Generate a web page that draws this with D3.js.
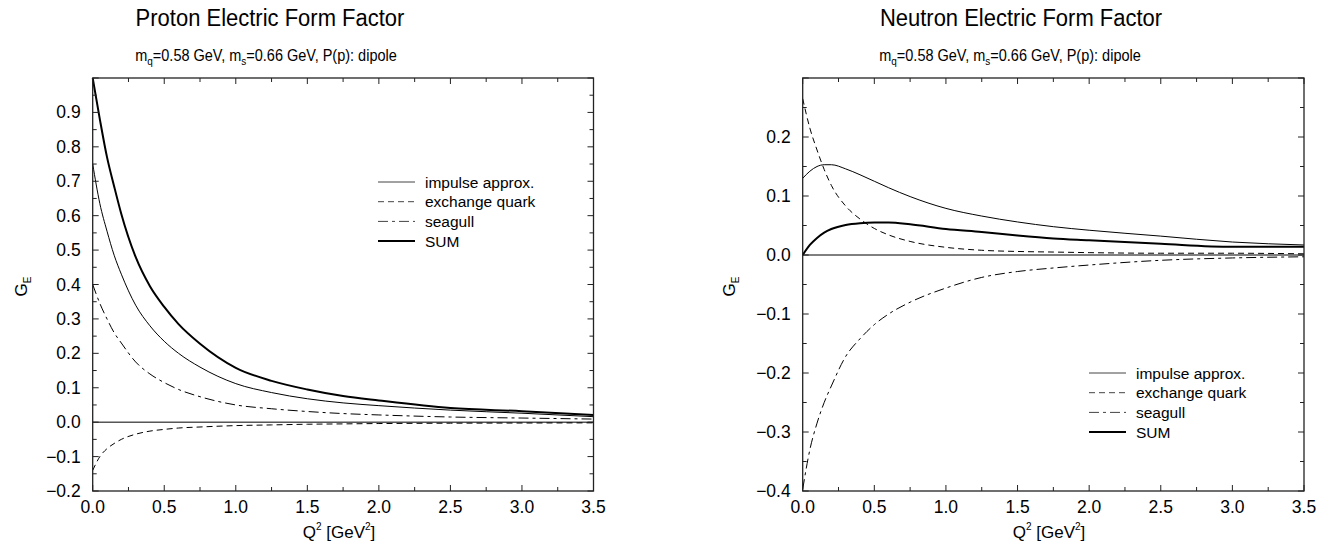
<!DOCTYPE html>
<html>
<head>
<meta charset="utf-8">
<script src="https://cdn.jsdelivr.net/npm/d3@7"></script>
<style>
  body { margin: 0; background: #fff; }
  svg { display: block; }
  text { font-family: Arial, "Liberation Sans", Helvetica, sans-serif; fill: #000; }
</style>
</head>
<body>
<svg id="chart" width="1328" height="546"></svg>
<script>
// ---------------- data ----------------
const q2 = [0, 0.05, 0.1, 0.15, 0.2, 0.3, 0.4, 0.5, 0.6, 0.75, 1.0, 1.25, 1.5, 1.75, 2.0, 2.5, 3.0, 3.5];

const protonImpulse  = [0.75, 0.635, 0.555, 0.485, 0.43, 0.34, 0.28, 0.235, 0.2, 0.16, 0.112, 0.086, 0.068, 0.056, 0.048, 0.035, 0.026, 0.016];
const protonExchange = [-0.14, -0.10, -0.077, -0.062, -0.05, -0.035, -0.026, -0.021, -0.017, -0.014, -0.01, -0.008, -0.006, -0.005, -0.004, -0.003, -0.0025, -0.002];
const protonSeagull  = [0.40, 0.345, 0.30, 0.26, 0.23, 0.175, 0.14, 0.115, 0.095, 0.074, 0.05, 0.039, 0.031, 0.025, 0.021, 0.015, 0.012, 0.009];
const protonSum      = [1.0, 0.88, 0.77, 0.685, 0.605, 0.48, 0.395, 0.335, 0.285, 0.228, 0.158, 0.12, 0.095, 0.076, 0.063, 0.041, 0.032, 0.021];

const neutronImpulse  = [0.13, 0.142, 0.15, 0.153, 0.153, 0.146, 0.136, 0.125, 0.114, 0.099, 0.079, 0.066, 0.056, 0.048, 0.042, 0.032, 0.022, 0.017];
const neutronExchange = [0.265, 0.215, 0.178, 0.145, 0.118, 0.083, 0.061, 0.045, 0.034, 0.023, 0.013, 0.008, 0.006, 0.005, 0.004, 0.003, 0.003, 0.002];
const neutronSeagull  = [-0.397, -0.33, -0.285, -0.25, -0.222, -0.172, -0.142, -0.118, -0.1, -0.08, -0.056, -0.038, -0.028, -0.022, -0.017, -0.009, -0.005, -0.003];
const neutronSum      = [0.0, 0.017, 0.029, 0.038, 0.044, 0.051, 0.054, 0.055, 0.055, 0.052, 0.044, 0.039, 0.033, 0.028, 0.025, 0.019, 0.014, 0.014];

const seriesNames = ["impulse approx.", "exchange quark", "seagull", "SUM"];
const xTickLabels = ["0.0", "0.5", "1.0", "1.5", "2.0", "2.5", "3.0", "3.5"];
const protonYTicks = [-0.2, -0.1, 0.0, 0.1, 0.2, 0.3, 0.4, 0.5, 0.6, 0.7, 0.8, 0.9];
const neutronYTicks = [-0.4, -0.3, -0.2, -0.1, 0.0, 0.1, 0.2];

// ---------------- styles ----------------
const lineStyles = [
  { width: 1, dash: null },
  { width: 1, dash: "6,4" },
  { width: 1, dash: "10,4,3,4" },
  { width: 2, dash: null }
];

const svg = d3.select("#chart");

function panel(cfg) {
  const x = d3.scaleLinear().domain([0, 3.5]).range([cfg.x0, cfg.x1]);
  const y = d3.scaleLinear().domain(cfg.yDomain).range([cfg.yBottom, cfg.yTop]);
  const g = svg.append("g");

  // curves
  const line = d3.line().x((d, i) => x(q2[i])).y(d => y(d)).curve(d3.curveMonotoneX);
  cfg.series.forEach((s, k) => {
    g.append("path")
      .attr("d", line(s))
      .attr("fill", "none")
      .attr("stroke", "#000")
      .attr("stroke-width", lineStyles[k].width)
      .attr("stroke-dasharray", lineStyles[k].dash);
  });

  // zero line
  g.append("line")
    .attr("x1", x(0)).attr("x2", x(3.5))
    .attr("y1", y(0)).attr("y2", y(0))
    .attr("stroke", "#000").attr("stroke-width", 1);

  // frame
  g.append("rect")
    .attr("x", cfg.x0).attr("y", cfg.yTop)
    .attr("width", cfg.x1 - cfg.x0).attr("height", cfg.yBottom - cfg.yTop)
    .attr("fill", "none").attr("stroke", "#222").attr("stroke-width", 1.3);

  // x ticks (inward, top and bottom)
  const xMajor = d3.range(0, 3.51, 0.5);
  const xMinor = d3.range(0.25, 3.5, 0.5);
  const tickG = g.append("g").attr("stroke", "#222").attr("stroke-width", 1);
  xMajor.forEach(v => {
    tickG.append("line").attr("x1", x(v)).attr("x2", x(v)).attr("y1", cfg.yBottom).attr("y2", cfg.yBottom - 6);
    tickG.append("line").attr("x1", x(v)).attr("x2", x(v)).attr("y1", cfg.yTop).attr("y2", cfg.yTop + 6);
  });
  xMinor.forEach(v => {
    tickG.append("line").attr("x1", x(v)).attr("x2", x(v)).attr("y1", cfg.yBottom).attr("y2", cfg.yBottom - 4);
    tickG.append("line").attr("x1", x(v)).attr("x2", x(v)).attr("y1", cfg.yTop).attr("y2", cfg.yTop + 4);
  });
  // y ticks
  const [ylo, yhi] = cfg.yDomain;
  const nMaj = Math.round((yhi - ylo) / 0.1);
  for (let i = 0; i <= nMaj; i++) {
    const v = ylo + i * 0.1;
    tickG.append("line").attr("x1", cfg.x0).attr("x2", cfg.x0 + 6).attr("y1", y(v)).attr("y2", y(v));
    tickG.append("line").attr("x1", cfg.x1).attr("x2", cfg.x1 - 6).attr("y1", y(v)).attr("y2", y(v));
    if (i < nMaj) {
      const m = v + 0.05;
      tickG.append("line").attr("x1", cfg.x0).attr("x2", cfg.x0 + 4).attr("y1", y(m)).attr("y2", y(m));
      tickG.append("line").attr("x1", cfg.x1).attr("x2", cfg.x1 - 4).attr("y1", y(m)).attr("y2", y(m));
    }
  }

  // tick labels
  xTickLabels.forEach(t => {
    g.append("text").attr("x", x(+t)).attr("y", cfg.yBottom + 22)
      .attr("text-anchor", "middle").attr("font-size", 17.5).text(t);
  });
  cfg.yTicks.forEach(v => {
    g.append("text").attr("x", cfg.x0 - 12).attr("y", y(v) + 6)
      .attr("text-anchor", "end").attr("font-size", 17.5).text(d3.format(".1f")(v));
  });

  // axis titles
  const xt = g.append("text").attr("x", cfg.xTitleX).attr("y", cfg.yBottom + 47)
    .attr("text-anchor", "middle").attr("font-size", 17);
  xt.append("tspan").text("Q");
  xt.append("tspan").attr("font-size", 10).attr("dy", -8).text("2");
  xt.append("tspan").attr("dy", 8).text(" [GeV");
  xt.append("tspan").attr("font-size", 10).attr("dy", -8).text("2");
  xt.append("tspan").attr("dy", 8).text("]");

  const yt = g.append("text")
    .attr("transform", `translate(${cfg.yTitleX},${(cfg.yTop + cfg.yBottom) / 2 + 2}) rotate(-90)`)
    .attr("text-anchor", "middle").attr("font-size", 17);
  yt.append("tspan").text("G");
  yt.append("tspan").attr("font-size", 10).attr("dy", 4).text("E");

  // titles (slightly tall lettering, as in the reference)
  g.append("text")
    .attr("transform", `translate(${cfg.titleX},26) scale(1,1.12)`)
    .attr("text-anchor", "middle").attr("font-size", 22).text(cfg.title);
  const st = g.append("text")
    .attr("transform", `translate(${cfg.subX},61) scale(1,1.08)`)
    .attr("text-anchor", "middle").attr("font-size", 14.5);
  st.append("tspan").text("m");
  st.append("tspan").attr("font-size", 10).attr("dy", 4).text("q");
  st.append("tspan").attr("dy", -4).text("=0.58 GeV, m");
  st.append("tspan").attr("font-size", 10).attr("dy", 4).text("s");
  st.append("tspan").attr("dy", -4).text("=0.66 GeV, P(p): dipole");

  // legend
  seriesNames.forEach((name, k) => {
    const ly = cfg.legendY + k * 19.7;
    g.append("line")
      .attr("x1", cfg.legendX).attr("x2", cfg.legendX + 37)
      .attr("y1", ly).attr("y2", ly)
      .attr("stroke", k === 3 ? "#000" : "#444")
      .attr("stroke-width", lineStyles[k].width)
      .attr("stroke-dasharray", lineStyles[k].dash);
    g.append("text").attr("x", cfg.legendX + 47).attr("y", ly + 5.5)
      .attr("font-size", 15.5).text(name);
  });
}

panel({
  x0: 92.7, x1: 593.5, yTop: 78, yBottom: 491, yDomain: [-0.2, 1.0],
  series: [protonImpulse, protonExchange, protonSeagull, protonSum],
  yTicks: protonYTicks,
  title: "Proton Electric Form Factor", titleX: 270, subX: 266,
  xTitleX: 339, yTitleX: 27,
  legendX: 378, legendY: 182
});

panel({
  x0: 802.7, x1: 1304, yTop: 78, yBottom: 491, yDomain: [-0.4, 0.3],
  series: [neutronImpulse, neutronExchange, neutronSeagull, neutronSum],
  yTicks: neutronYTicks,
  title: "Neutron Electric Form Factor", titleX: 1021, subX: 1010,
  xTitleX: 1049, yTitleX: 735,
  legendX: 1089, legendY: 373
});
</script>
</body>
</html>
